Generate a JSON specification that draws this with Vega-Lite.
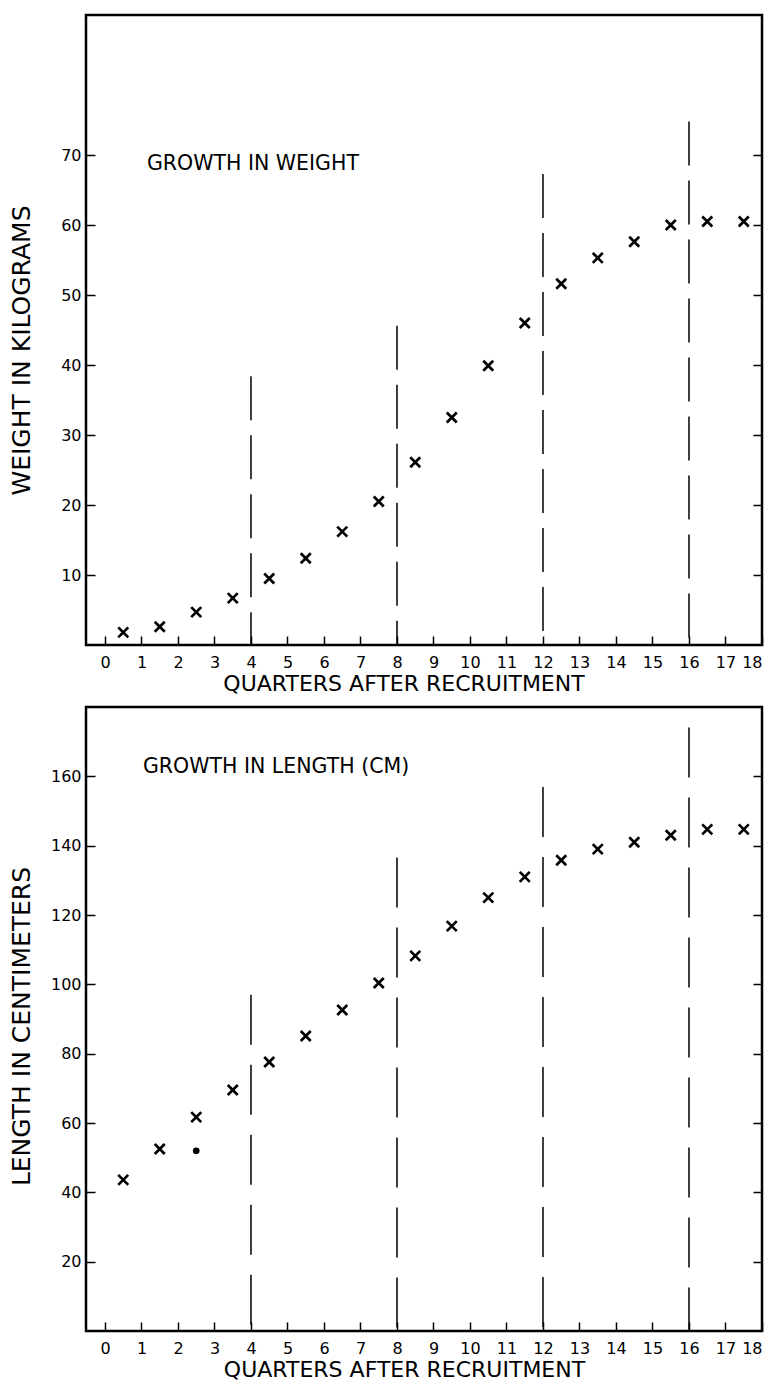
{
  "$schema": "https://vega.github.io/schema/vega-lite/v6.json",
  "background": "white",
  "padding": {"left": 7, "top": 13, "right": 0, "bottom": 0},
  "spacing": 9,
  "config": {
    "font": "DejaVu Sans",
    "view": {"stroke": "black", "strokeWidth": 2.5},
    "axis": {
      "labelFont": "DejaVu Sans", "titleFont": "DejaVu Sans",
      "labelColor": "black", "titleColor": "black", "tickColor": "black",
      "domain": false, "grid": false, "labelFontSize": 16,
      "tickSize": 9, "offset": -9, "tickWidth": 1.5, "titleFontWeight": "normal",
      "labelFlush": false, "labelBound": false
    }
  },
  "datasets": {
    "weight": [
      {"q": 0.5, "kg": 1.8}, {"q": 1.5, "kg": 2.6}, {"q": 2.5, "kg": 4.7}, {"q": 3.5, "kg": 6.7},
      {"q": 4.5, "kg": 9.5}, {"q": 5.5, "kg": 12.4}, {"q": 6.5, "kg": 16.2}, {"q": 7.5, "kg": 20.5},
      {"q": 8.5, "kg": 26.1}, {"q": 9.5, "kg": 32.5}, {"q": 10.5, "kg": 39.9}, {"q": 11.5, "kg": 46.0},
      {"q": 12.5, "kg": 51.6}, {"q": 13.5, "kg": 55.3}, {"q": 14.5, "kg": 57.6}, {"q": 15.5, "kg": 60.0},
      {"q": 16.5, "kg": 60.5}, {"q": 17.5, "kg": 60.5}
    ],
    "weightYears": [
      {"q": 4, "top": 38.4}, {"q": 8, "top": 45.6}, {"q": 12, "top": 67.3}, {"q": 16, "top": 74.8}
    ],
    "length": [
      {"q": 0.5, "cm": 43.6}, {"q": 1.5, "cm": 52.5}, {"q": 2.5, "cm": 61.7}, {"q": 3.5, "cm": 69.5},
      {"q": 4.5, "cm": 77.6}, {"q": 5.5, "cm": 85.1}, {"q": 6.5, "cm": 92.6}, {"q": 7.5, "cm": 100.4},
      {"q": 8.5, "cm": 108.2}, {"q": 9.5, "cm": 116.8}, {"q": 10.5, "cm": 125.0}, {"q": 11.5, "cm": 131.0},
      {"q": 12.5, "cm": 135.8}, {"q": 13.5, "cm": 139.0}, {"q": 14.5, "cm": 141.0}, {"q": 15.5, "cm": 143.0},
      {"q": 16.5, "cm": 144.7}, {"q": 17.5, "cm": 144.7}
    ],
    "lengthDot": [{"q": 2.5, "cm": 52.0}],
    "lengthYears": [
      {"q": 4, "top": 97.0}, {"q": 8, "top": 136.6}, {"q": 12, "top": 156.9}, {"q": 16, "top": 174.1}
    ]
  },
  "vconcat": [
    {
      "width": 676, "height": 630,
      "resolve": {"axis": {"x": "independent", "y": "independent"}},
      "layer": [
        {
          "data": {"name": "weight"},
          "mark": {"type": "point", "shape": "M-1,-1L1,1M1,-1L-1,1", "filled": false, "stroke": "black", "strokeWidth": 2.7, "size": 100, "opacity": 1},
          "encoding": {
            "x": {"field": "q", "type": "quantitative",
              "scale": {"domain": [-0.52, 18], "nice": false, "zero": false},
              "axis": {"values": [0,1,2,3,4,5,6,7,8,9,10,11,12,13,14,15,16,17,18], "labelPadding": 9,
                "labelOverlap": false, "labelFlush": true, "offset": -9, "tickSize": 9,
                "title": "QUARTERS AFTER RECRUITMENT", "titleFontSize": 22, "titleX": 317.5, "titleY": 54,
                "titleAlign": "center", "titleBaseline": "alphabetic"}},
            "y": {"field": "kg", "type": "quantitative",
              "scale": {"domain": [0, 90], "nice": false, "zero": true},
              "axis": {"orient": "left", "values": [10,20,30,40,50,60,70], "labelPadding": 5,
                "labelOverlap": false, "offset": -9, "tickSize": 9,
                "title": "WEIGHT IN KILOGRAMS", "titleFontSize": 25, "titleAngle": 270,
                "titleX": -66, "titleY": 335, "titleAlign": "center", "titleBaseline": "alphabetic"}}
          }
        },
        {
          "data": {"name": "weightYears"},
          "mark": {"type": "rule", "color": "black", "strokeWidth": 1.5, "strokeDash": [44, 15]},
          "encoding": {
            "x": {"field": "q", "type": "quantitative", "axis": null},
            "y": {"field": "top", "type": "quantitative",
              "axis": {"orient": "right", "values": [10,20,30,40,50,60,70], "labels": false, "title": null, "offset": -9, "tickSize": 9}},
            "y2": {"datum": 0}
          }
        },
        {
          "data": {"values": [{"label": "GROWTH IN WEIGHT"}]},
          "mark": {"type": "text", "align": "left", "baseline": "alphabetic", "fontSize": 20.5, "color": "black", "font": "DejaVu Sans"},
          "encoding": {
            "x": {"datum": 1.15, "type": "quantitative", "axis": null},
            "y": {"datum": 67.8, "type": "quantitative", "axis": null},
            "text": {"field": "label"}
          }
        }
      ]
    },
    {
      "width": 676, "height": 624,
      "resolve": {"axis": {"x": "independent", "y": "independent"}},
      "layer": [
        {
          "data": {"name": "length"},
          "mark": {"type": "point", "shape": "M-1,-1L1,1M1,-1L-1,1", "filled": false, "stroke": "black", "strokeWidth": 2.7, "size": 100, "opacity": 1},
          "encoding": {
            "x": {"field": "q", "type": "quantitative",
              "scale": {"domain": [-0.52, 18], "nice": false, "zero": false},
              "axis": {"values": [0,1,2,3,4,5,6,7,8,9,10,11,12,13,14,15,16,17,18], "labelPadding": 9,
                "labelOverlap": false, "labelFlush": true, "offset": -9, "tickSize": 9,
                "title": "QUARTERS AFTER RECRUITMENT", "titleFontSize": 22, "titleX": 318, "titleY": 54,
                "titleAlign": "center", "titleBaseline": "alphabetic"}},
            "y": {"field": "cm", "type": "quantitative",
              "scale": {"domain": [0, 180], "nice": false, "zero": true},
              "axis": {"orient": "left", "values": [20,40,60,80,100,120,140,160], "labelPadding": 5,
                "labelOverlap": false, "offset": -9, "tickSize": 9,
                "title": "LENGTH IN CENTIMETERS", "titleFontSize": 25, "titleAngle": 270,
                "titleX": -66, "titleY": 319, "titleAlign": "center", "titleBaseline": "alphabetic"}}
          }
        },
        {
          "data": {"name": "lengthDot"},
          "mark": {"type": "point", "shape": "circle", "filled": true, "color": "black", "size": 45, "opacity": 1},
          "encoding": {
            "x": {"field": "q", "type": "quantitative", "axis": null},
            "y": {"field": "cm", "type": "quantitative", "axis": null}
          }
        },
        {
          "data": {"name": "lengthYears"},
          "mark": {"type": "rule", "color": "black", "strokeWidth": 1.5, "strokeDash": [50, 20]},
          "encoding": {
            "x": {"field": "q", "type": "quantitative", "axis": null},
            "y": {"field": "top", "type": "quantitative",
              "axis": {"orient": "right", "values": [20,40,60,80,100,120,140,160], "labels": false, "title": null, "offset": -9, "tickSize": 9}},
            "y2": {"datum": 0}
          }
        },
        {
          "data": {"values": [{"label": "GROWTH IN LENGTH (CM)"}]},
          "mark": {"type": "text", "align": "left", "baseline": "alphabetic", "fontSize": 20.5, "color": "black", "font": "DejaVu Sans"},
          "encoding": {
            "x": {"datum": 1.04, "type": "quantitative", "axis": null},
            "y": {"datum": 161, "type": "quantitative", "axis": null},
            "text": {"field": "label"}
          }
        }
      ]
    }
  ]
}
